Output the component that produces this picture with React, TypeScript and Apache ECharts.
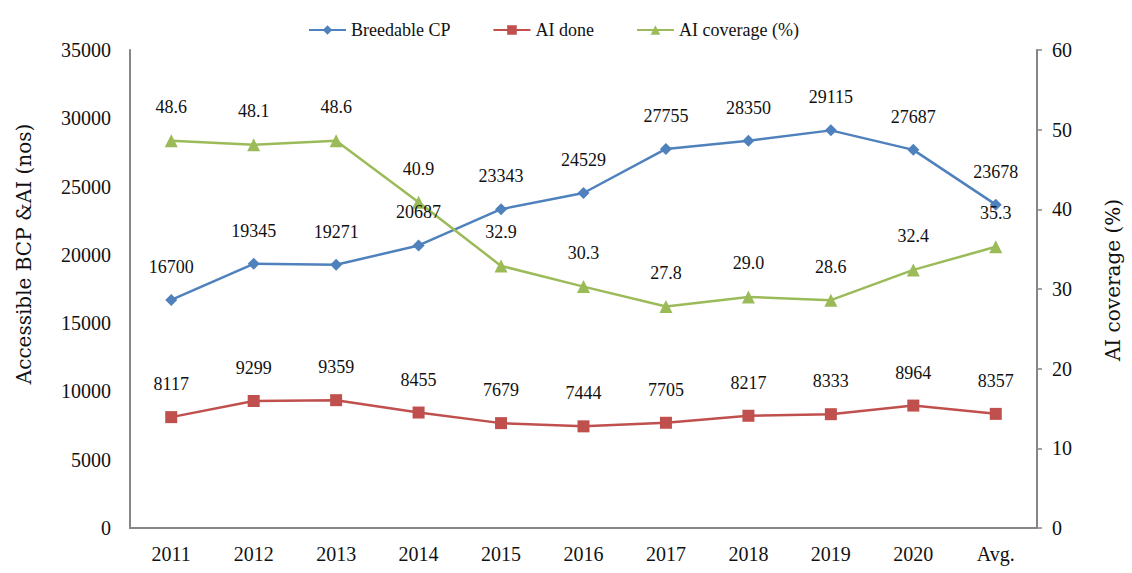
import React, { useEffect, useRef } from "react";
import * as echarts from "echarts";

const categories = ["2011", "2012", "2013", "2014", "2015", "2016", "2017", "2018", "2019", "2020", "Avg."];
const breedableCP = [16700, 19345, 19271, 20687, 23343, 24529, 27755, 28350, 29115, 27687, 23678];
const aiDone = [8117, 9299, 9359, 8455, 7679, 7444, 7705, 8217, 8333, 8964, 8357];
const aiCoverage = [48.6, 48.1, 48.6, 40.9, 32.9, 30.3, 27.8, 29.0, 28.6, 32.4, 35.3];
const leftAxisName = "Accessible BCP &AI (nos)";
const rightAxisName = "AI coverage (%)";

const FONT = "'Liberation Serif', 'Times New Roman', serif";
const NAME_FONT = "'DejaVu Serif', 'Liberation Serif', serif";

export default function App() {
  const ref = useRef<HTMLDivElement>(null);
  useEffect(() => {
    if (!ref.current) return;
    const chart = echarts.init(ref.current, null, { renderer: "svg" });
    const label = (fmt?: (v: any) => string) => ({
      show: true,
      position: "top" as const,
      distance: 18,
      color: "#111",
      fontFamily: FONT,
      fontSize: 18,
      formatter: fmt ? (p: any) => fmt(p.value) : undefined,
    });
    chart.setOption({
      animation: false,
      textStyle: { fontFamily: FONT },
      legend: {
        top: 16,
        left: 303,
        itemGap: 42,
        itemWidth: 37,
        itemHeight: 12,
        itemTextGap: 1,
        textStyle: { fontFamily: FONT, fontSize: 18, color: "#111" },
        data: ["Breedable CP", "AI done", "AI coverage (%)"],
      },
      grid: { left: 130, right: 95, top: 50, bottom: 45, containLabel: false },
      xAxis: {
        type: "category",
        data: categories,
        boundaryGap: true,
        axisLine: { lineStyle: { color: "#868686", width: 2 } },
        axisTick: { show: false },
        axisLabel: { color: "#111", fontFamily: FONT, fontSize: 20, margin: 16 },
      },
      yAxis: [
        {
          type: "value",
          min: 0,
          max: 35000,
          interval: 5000,
          axisLine: { show: true, lineStyle: { color: "#868686", width: 2 } },
          axisTick: { show: false },
          splitLine: { show: false },
          axisLabel: { color: "#111", fontFamily: FONT, fontSize: 20, margin: 19, formatter: (v: number) => String(v) },
        },
        {
          type: "value",
          min: 0,
          max: 60,
          interval: 10,
          position: "right",
          axisLine: { show: true, lineStyle: { color: "#868686", width: 2 } },
          axisTick: { show: true, length: 5, lineStyle: { color: "#868686", width: 1.5 } },
          splitLine: { show: false },
          axisLabel: { color: "#111", fontFamily: FONT, fontSize: 20, margin: 15, formatter: (v: number) => String(v) },
        },
      ],
      graphic: [
        {
          type: "text",
          x: 24,
          y: 254,
          rotation: Math.PI / 2,
          style: {
            text: leftAxisName,
            font: `20px ${NAME_FONT}`,
            fill: "#111",
            align: "center",
            verticalAlign: "middle",
          },
        },
        {
          type: "text",
          x: 1113,
          y: 280,
          rotation: Math.PI / 2,
          style: {
            text: rightAxisName,
            font: `20px ${NAME_FONT}`,
            fill: "#111",
            align: "center",
            verticalAlign: "middle",
          },
        },
      ],
      series: [
        {
          name: "Breedable CP",
          type: "line",
          data: breedableCP,
          yAxisIndex: 0,
          symbol: "diamond",
          symbolSize: 12,
          itemStyle: { color: "#4F81BD" },
          lineStyle: { color: "#4F81BD", width: 2.5 },
          label: label(),
        },
        {
          name: "AI done",
          type: "line",
          data: aiDone,
          yAxisIndex: 0,
          symbol: "rect",
          symbolSize: 12,
          itemStyle: { color: "#C0504D" },
          lineStyle: { color: "#C0504D", width: 2.5 },
          label: label(),
        },
        {
          name: "AI coverage (%)",
          type: "line",
          data: aiCoverage,
          yAxisIndex: 1,
          symbol: "triangle",
          symbolSize: 13,
          itemStyle: { color: "#9BBB59" },
          lineStyle: { color: "#9BBB59", width: 2.5 },
          label: label((v) => Number(v).toFixed(1)),
        },
      ],
    });
    return () => chart.dispose();
  }, []);
  return <div ref={ref} style={{ position: "absolute", left: 0, top: 0, width: 1132, height: 573 }} />;
}
